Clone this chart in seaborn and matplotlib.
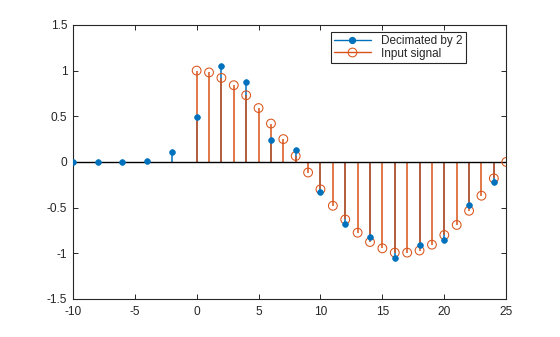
import matplotlib
matplotlib.use("Agg")
import matplotlib.pyplot as plt
from matplotlib.lines import Line2D
from matplotlib.legend_handler import HandlerLine2D
import seaborn as sns
import pandas as pd

# Data
n_input = list(range(0, 26))
input_signal = [1.0, 0.98, 0.92, 0.84, 0.73, 0.59, 0.42, 0.25, 0.065,
                -0.116, -0.30, -0.48, -0.63, -0.775, -0.877, -0.946, -0.993,
                -0.993, -0.97, -0.906, -0.80, -0.69, -0.535, -0.37, -0.18, 0.0]
n_dec = list(range(-10, 25, 2))
decimated = [0.0, 0.0, 0.0, 0.01, 0.11, 0.49, 1.05, 0.88, 0.24, 0.13,
             -0.33, -0.68, -0.826, -1.055, -0.906, -0.855, -0.47, -0.218]
xticks = [-10, -5, 0, 5, 10, 15, 20, 25]
yticks = [-1.5, -1, -0.5, 0, 0.5, 1, 1.5]
labels = ["Decimated by 2", "Input signal"]

blue = "#0072BD"
orange = "#D95319"
dark = "#262626"

sns.set_theme(style="ticks")
plt.rcParams['font.family'] = ['Liberation Sans', 'DejaVu Sans']

df_in = pd.DataFrame({"n": n_input, "y": input_signal})
df_dec = pd.DataFrame({"n": n_dec, "y": decimated})

fig = plt.figure(figsize=(5.6, 3.37), dpi=100)
ax = fig.add_axes([0.13, 0.113, 0.774, 0.813])

# stems (orange drawn over blue)
ax.vlines(df_dec["n"], 0, df_dec["y"], color=blue, lw=1.1, zorder=2)
ax.vlines(df_in["n"], 0, df_in["y"], color=orange, lw=1.1, zorder=2.5)
# baseline
ax.plot([-10, 25], [0, 0], color="black", lw=1.0, zorder=3)
# markers
sns.scatterplot(data=df_in, x="n", y="y", ax=ax, marker="o", s=40,
                facecolor="none", edgecolor=orange, linewidth=0.75, zorder=4)
sns.scatterplot(data=df_dec, x="n", y="y", ax=ax, marker="o", s=17,
                color=blue, edgecolor=blue, linewidth=0.5, zorder=5)

ax.set_xlim(-10, 25)
ax.set_ylim(-1.5, 1.5)
ax.set_xticks(xticks)
ax.set_xticklabels([str(t) for t in xticks])
ax.set_yticks(yticks)
ax.set_yticklabels([("%g" % t) for t in yticks])
ax.set_xlabel("")
ax.set_ylabel("")
ax.tick_params(direction="in", top=True, right=True, length=3.5, width=0.7,
               colors=dark, labelsize=8.6)
ax.tick_params(axis="x", pad=5)
ax.tick_params(axis="y", pad=4)
for sp in ax.spines.values():
    sp.set_visible(True)
    sp.set_color(dark)
    sp.set_linewidth(0.8)


class EndMarkerHandler(HandlerLine2D):
    def get_xdata(self, legend, xdescent, ydescent, width, height, fontsize):
        xdata = [-xdescent, -xdescent + width]
        return xdata, [-xdescent + width]


h1 = Line2D([], [], color=blue, lw=1.0, marker="o", markersize=4.2,
            markerfacecolor=blue, markeredgecolor=blue)
h2 = Line2D([], [], color=orange, lw=1.0, marker="o", markersize=6.3,
            markerfacecolor="none", markeredgecolor=orange, markeredgewidth=0.75)
leg = ax.legend([h1, h2], labels, loc="upper left",
                bbox_to_anchor=(0.596, 0.974), fontsize=8.5, frameon=True,
                fancybox=False, edgecolor=dark, framealpha=1,
                handler_map={h1: EndMarkerHandler(numpoints=1),
                             h2: EndMarkerHandler(numpoints=1)},
                handlelength=3.1, handletextpad=0.9, borderpad=0.25,
                labelspacing=0.05, borderaxespad=0)
leg.get_frame().set_linewidth(0.8)
for t in leg.get_texts():
    t.set_color(dark)

fig.savefig("out.png", dpi=100)
